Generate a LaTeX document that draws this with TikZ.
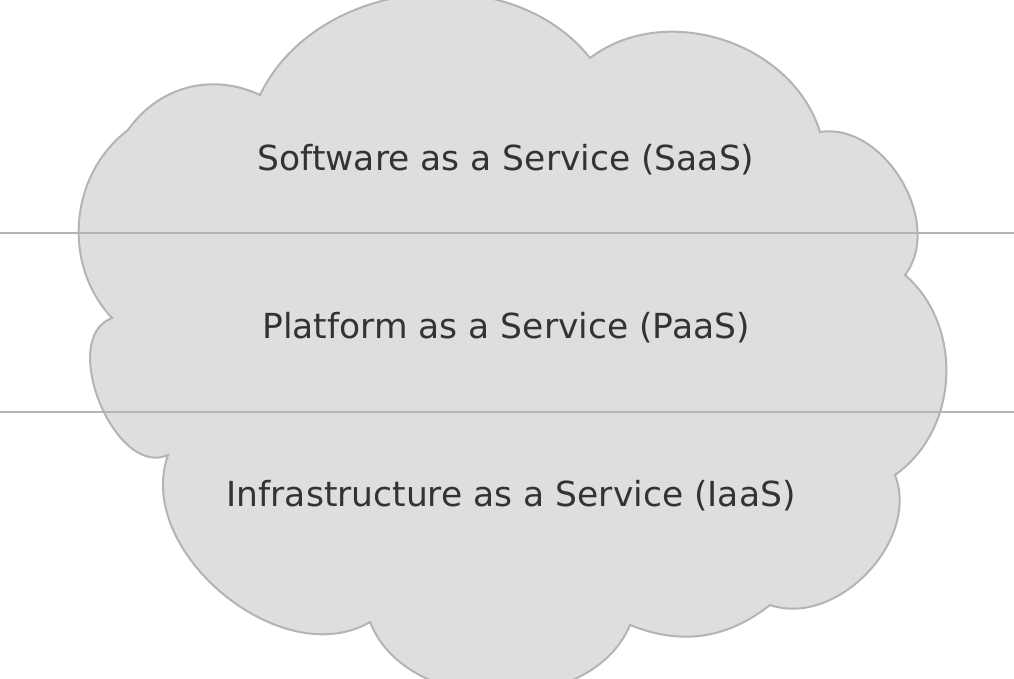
\documentclass[tikz,border=0pt]{standalone}
\usepackage{fontspec}
\setmainfont{DejaVu Sans}
\definecolor{cloudfill}{HTML}{DEDEDE}
\definecolor{cloudline}{HTML}{B4B4B4}
\definecolor{txt}{HTML}{333333}
\begin{document}
\begin{tikzpicture}[x=1pt,y=-1pt,
  lbl/.style={font=\fontsize{34.5}{40}\selectfont,text=txt},
  sep/.style={draw=cloudline,line width=2pt}]
\useasboundingbox (0,0) rectangle (1014,679);
\coordinate (p1) at (260,95);
\coordinate (p2) at (590,58);
\coordinate (p3) at (820,132);
\coordinate (p4) at (905,275);
\coordinate (p5) at (895,475);
\coordinate (p6) at (770,605);
\coordinate (p7) at (630,625);
\coordinate (p8) at (370,622);
\coordinate (p9) at (168,455);
\coordinate (p10) at (112,318);
\coordinate (p11) at (128,130);
\draw[fill=cloudfill,draw=cloudline,line width=2pt]
  (p1) to[bend left=58] (p2) to[bend left=55] (p3) to[bend left=68] (p4)
  to[bend left=52] (p5) to[bend left=65] (p6) to[bend left=30] (p7)
  to[bend left=68] (p8) to[bend left=70] (p9) to[bend left=92] (p10)
  to[bend left=48] (p11) to[bend left=40] (p1) -- cycle;
\coordinate (l1a) at (0,233); \coordinate (l1b) at (1014,233);
\coordinate (l2a) at (0,412); \coordinate (l2b) at (1014,412);
\draw[sep] (l1a) -- (l1b);
\draw[sep] (l2a) -- (l2b);
\node[lbl] (saas) at (506,160) {Software as a Service (SaaS)};
\node[lbl] (paas) at (506,328) {Platform as a Service (PaaS)};
\node[lbl] (iaas) at (511,496) {Infrastructure as a Service (IaaS)};
\end{tikzpicture}
\end{document}
